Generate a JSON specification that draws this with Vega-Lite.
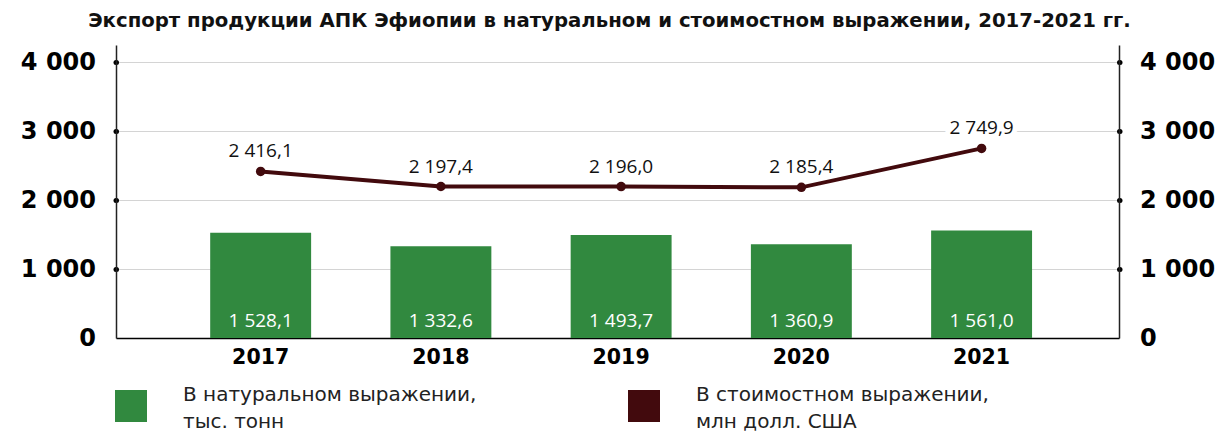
{
  "$schema": "https://vega.github.io/schema/vega-lite/v6.json",
  "autosize": {"type": "none"},
  "width": 1003,
  "height": 293,
  "padding": {"left": 116, "top": 45, "right": 98, "bottom": 94},
  "background": "white",
  "title": {
    "text": "Экспорт продукции АПК Эфиопии в натуральном и стоимостном выражении, 2017-2021 гг.",
    "font": "DejaVu Sans",
    "fontSize": 19.7,
    "fontWeight": "bold",
    "color": "#111111",
    "anchor": "middle",
    "offset": 14,
    "dx": -8
  },
  "config": {
    "locale": {"number": {"decimal": ",", "thousands": " ", "grouping": [3], "currency": ["", ""]}},
    "view": {"stroke": null},
    "font": "Open Sans"
  },
  "data": {
    "values": [
      {"year": "2017", "volume": 1528.1, "value": 2416.1},
      {"year": "2018", "volume": 1332.6, "value": 2197.4},
      {"year": "2019", "volume": 1493.7, "value": 2196.0},
      {"year": "2020", "volume": 1360.9, "value": 2185.4},
      {"year": "2021", "volume": 1561.0, "value": 2749.9}
    ]
  },
  "encoding": {
    "x": {
      "field": "year", "type": "nominal",
      "scale": {"paddingInner": 0.44, "paddingOuter": 0.5025, "align": 0.52},
      "axis": {
        "title": null, "labelAngle": 0, "ticks": false,
        "labelFont": "DejaVu Sans", "labelFontSize": 20.5, "labelFontWeight": "bold",
        "labelColor": "#000000", "labelPadding": 9,
        "domainColor": "#000000", "domainWidth": 1.5
      }
    }
  },
  "layer": [
    {
      "layer": [
        {
          "mark": {"type": "bar"},
          "encoding": {
            "y": {
              "field": "volume", "type": "quantitative",
              "scale": {"domain": [0, 4250], "nice": false},
              "axis": {
                "title": null, "orient": "left",
                "values": [0, 1000, 2000, 3000, 4000], "format": ",d",
                "labelFont": "DejaVu Sans", "labelFontSize": 24, "labelFontWeight": "bold",
                "labelColor": "#000000", "labelPadding": 20,
                "domainColor": "#222222", "domainWidth": 1.5,
                "tickSize": 0.5, "tickWidth": 5, "tickCap": "round", "tickColor": "#000000",
                "tickOpacity": {"condition": {"test": "datum.value == 0", "value": 0}, "value": 1},
                "grid": true, "gridColor": "#d4d4d4", "gridWidth": 1
              }
            },
            "color": {
              "datum": "В натуральном выражении,|тыс. тонн",
              "type": "nominal",
              "scale": {
                "domain": ["В натуральном выражении,|тыс. тонн", "В стоимостном выражении,|млн долл. США"],
                "range": ["#31893f", "#420a0d"]
              },
              "legend": {
                "title": null, "orient": "none", "legendX": -1, "legendY": 345,
                "direction": "horizontal", "columns": 2, "columnPadding": 151,
                "symbolType": "square", "symbolSize": 1024, "symbolStrokeWidth": 0,
                "labelOffset": 36, "labelLimit": 500,
                "labelFont": "DejaVu Sans", "labelFontSize": 20, "labelColor": "#222222",
                "labelExpr": "split(datum.label, '|')",
                "encode": {"labels": {"update": {"lineHeight": {"value": 27}, "dy": {"value": -11}}}}
              }
            }
          }
        },
        {
          "mark": {"type": "text", "color": "white", "fontSize": 19, "font": "Open Sans", "baseline": "middle", "dy": -17},
          "encoding": {
            "y": {"datum": 0, "type": "quantitative"},
            "text": {"field": "volume", "type": "quantitative", "format": ",.1f"}
          }
        }
      ]
    },
    {
      "layer": [
        {
          "mark": {"type": "line", "color": "#420a0d", "strokeWidth": 4},
          "encoding": {
            "y": {
              "field": "value", "type": "quantitative",
              "scale": {"domain": [0, 4250], "nice": false},
              "axis": {
                "title": null, "orient": "right",
                "values": [0, 1000, 2000, 3000, 4000], "format": ",d",
                "labelFont": "DejaVu Sans", "labelFontSize": 24, "labelFontWeight": "bold",
                "labelColor": "#000000", "labelPadding": 20,
                "domainColor": "#222222", "domainWidth": 1.5,
                "tickSize": 0.5, "tickWidth": 5, "tickCap": "round", "tickColor": "#000000",
                "tickOpacity": {"condition": {"test": "datum.value == 0", "value": 0}, "value": 1},
                "grid": false
              }
            }
          }
        },
        {
          "mark": {"type": "point", "filled": true, "color": "#420a0d", "size": 90, "opacity": 1},
          "encoding": {"y": {"field": "value", "type": "quantitative"}}
        },
        {
          "mark": {"type": "text", "color": "white", "stroke": "white", "strokeWidth": 10, "fontSize": 19, "font": "Open Sans", "baseline": "middle", "dy": -20},
          "encoding": {
            "y": {"field": "value", "type": "quantitative"},
            "text": {"field": "value", "type": "quantitative", "format": ",.1f"}
          }
        },
        {
          "mark": {"type": "text", "color": "#111111", "fontSize": 19, "font": "Open Sans", "baseline": "middle", "dy": -20},
          "encoding": {
            "y": {"field": "value", "type": "quantitative"},
            "text": {"field": "value", "type": "quantitative", "format": ",.1f"}
          }
        }
      ]
    }
  ],
  "resolve": {"scale": {"y": "independent"}}
}
